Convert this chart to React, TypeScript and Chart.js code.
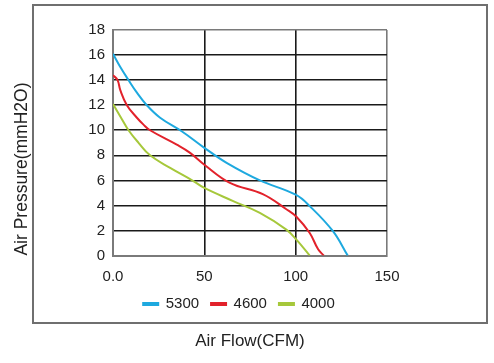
import React, { useEffect, useRef } from "react";
import { Chart, registerables } from "chart.js";

Chart.register(...registerables);

const flow5300 = [0, 4, 8.5, 13.1, 18.5, 25.8, 37.8, 50, 62.2, 80.4, 100, 107.7, 120.4, 128.5];
const pres5300 = [16.1, 15.05, 14.0, 13.0, 12.0, 11.0, 9.9, 8.6, 7.4, 6.0, 4.86, 3.95, 1.95, 0];

const flow4600 = [0, 2.5, 4, 7.6, 13.1, 16.7, 20.3, 34.9, 42.2, 50, 64, 82, 94.9, 100.4, 107.7, 112.3, 115.4];
const pres4600 = [14.4, 14.0, 13.2, 12.0, 11.0, 10.45, 10.0, 8.85, 8.2, 7.25, 5.8, 4.9, 3.7, 3.1, 1.8, 0.5, 0];

const flow4000 = [0, 4, 8.5, 14, 20.3, 31.3, 44, 50, 65.8, 80.4, 94.9, 100.4, 107.7];
const pres4000 = [12.1, 11.1, 10.0, 9.0, 8.0, 7.0, 5.95, 5.4, 4.35, 3.4, 2.07, 1.27, 0];

const seriesNames = ["5300", "4600", "4000"];
const seriesColors = ["#1ea9df", "#e2222b", "#a6c83b"];
const xTickLabels = ["0.0", "50", "100", "150"];
const yTickLabels = ["0", "2", "4", "6", "8", "10", "12", "14", "16", "18"];

const FONT = '"Liberation Sans", Arial, Helvetica, sans-serif';

const toPoints = (xs: number[], ys: number[]) => xs.map((x, i) => ({ x, y: ys[i] }));

const frameBox = {
  id: "frameBox",
  beforeDraw(chart: any) {
    const ctx = chart.ctx;
    ctx.save();
    ctx.strokeStyle = "#6f6f6f";
    ctx.lineWidth = 2;
    ctx.strokeRect(33, 5, 454, 318);
    ctx.restore();
  },
};

export default function App() {
  const ref = useRef<HTMLCanvasElement | null>(null);

  useEffect(() => {
    document.body.style.margin = "0";
    const canvas = ref.current;
    if (!canvas) return;
    const gridColor = "#1a1a1a";
    const frameColor = "#7a7a7a";
    const chart = new Chart(canvas, {
      type: "line",
      data: {
        datasets: [
          { label: seriesNames[0], data: toPoints(flow5300, pres5300) },
          { label: seriesNames[1], data: toPoints(flow4600, pres4600) },
          { label: seriesNames[2], data: toPoints(flow4000, pres4000) },
        ].map((d, i) => ({
          ...d,
          borderColor: seriesColors[i],
          backgroundColor: seriesColors[i],
          borderWidth: 2,
          pointRadius: 0,
          tension: 0.4,
          fill: false,
        })),
      },
      options: {
        responsive: false,
        animation: false,
        devicePixelRatio: 1,
        layout: { padding: { left: 8, right: 24, top: 30, bottom: 11 } },
        plugins: {
          legend: {
            display: true,
            position: "bottom",
            fullSize: true,
            labels: {
              boxWidth: 15,
              boxHeight: 2,
              padding: 12,
              color: "#222",
              font: { family: FONT, size: 15 },
            },
          },
          title: {
            display: true,
            position: "bottom",
            fullSize: false,
            text: "Air Flow(CFM)",
            color: "#222",
            font: { family: FONT, size: 17, weight: "normal" },
            padding: { top: 10, bottom: 0 },
          },
          tooltip: { enabled: false },
        },
        scales: {
          x: {
            type: "linear",
            min: 0,
            max: 150,
            afterFit: (s: any) => {
              s.height = 29;
            },
            ticks: {
              stepSize: 50,
              padding: 12,
              color: "#222",
              font: { family: FONT, size: 15 },
              callback: (_v: any, i: number) => xTickLabels[i],
            },
            grid: {
              drawTicks: false,
              lineWidth: 1.6,
              color: (c: any) =>
                c.tick && (c.tick.value === 0 || c.tick.value === 150) ? frameColor : gridColor,
            },
            border: { color: frameColor, width: 2 },
          },
          y: {
            type: "linear",
            min: 0,
            max: 18,
            afterFit: (s: any) => {
              s.width = 105;
            },
            ticks: {
              stepSize: 2,
              padding: 8,
              color: "#222",
              font: { family: FONT, size: 15 },
              callback: (_v: any, i: number) => yTickLabels[i],
            },
            grid: {
              drawTicks: false,
              lineWidth: 1.6,
              color: (c: any) =>
                c.tick && (c.tick.value === 0 || c.tick.value === 18) ? frameColor : gridColor,
            },
            border: { color: frameColor, width: 2 },
            title: {
              display: true,
              text: "Air Pressure(mmH2O)",
              align: "start",
              color: "#222",
              font: { family: FONT, size: 17.5 },
              padding: { top: 4, bottom: 4 },
            },
          },
          yRightSpace: {
            type: "linear",
            position: "right",
            display: true,
            afterFit: (s: any) => {
              s.width = 83;
            },
            ticks: { display: false },
            grid: { display: false, drawTicks: false },
            border: { display: false },
          },
        },
      },
      plugins: [frameBox],
    });
    return () => chart.destroy();
  }, []);

  return (
    <div style={{ width: 494, height: 363, background: "#fff" }}>
      <canvas ref={ref} width={494} height={363} style={{ display: "block" }} />
    </div>
  );
}
